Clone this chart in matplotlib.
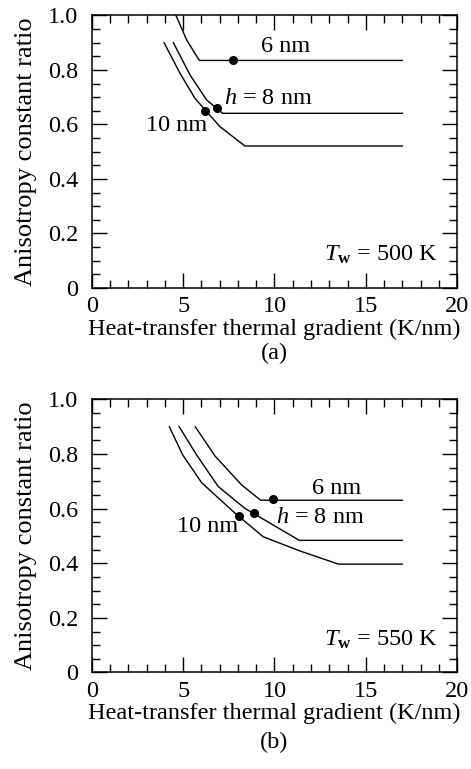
import matplotlib
matplotlib.use("Agg")
import matplotlib.pyplot as plt
from matplotlib.ticker import MultipleLocator

plt.rcParams['font.family'] = ['Liberation Serif', 'DejaVu Serif']
plt.rcParams['mathtext.fontset'] = 'custom'
plt.rcParams['mathtext.rm'] = 'Liberation Serif'
plt.rcParams['mathtext.it'] = 'Liberation Serif:italic'
plt.rcParams['mathtext.bf'] = 'Liberation Serif:bold'

# (a) Tw = 500 K
a_6_x = [4.6, 5.19, 5.88, 17.0]
a_6_y = [1.0, 0.91, 0.835, 0.835]
a_8_x = [4.46, 5.37, 6.28, 7.16, 17.0]
a_8_y = [0.90, 0.782, 0.690, 0.641, 0.641]
a_10_x = [3.95, 4.82, 5.64, 7.01, 8.38, 17.0]
a_10_y = [0.90, 0.788, 0.696, 0.592, 0.521, 0.521]
a_dots_x = [7.71, 6.85, 6.21]
a_dots_y = [0.838, 0.661, 0.651]

# (b) Tw = 550 K
b_6_x = [5.66, 6.74, 8.2, 9.24, 17.0]
b_6_y = [0.90, 0.793, 0.687, 0.631, 0.631]
b_8_x = [4.78, 5.73, 6.92, 8.38, 11.36, 17.0]
b_8_y = [0.90, 0.797, 0.681, 0.601, 0.484, 0.484]
b_10_x = [4.24, 4.97, 6.01, 7.93, 9.39, 11.36, 13.5, 17.0]
b_10_y = [0.90, 0.797, 0.695, 0.578, 0.497, 0.446, 0.397, 0.397]
b_dots_x = [9.94, 8.88, 8.04]
b_dots_y = [0.634, 0.583, 0.573]

FS = 17.5

fig = plt.figure(figsize=(4.71, 7.69), dpi=100)
ax1 = fig.add_axes([0.1953, 0.6255, 0.775, 0.3544])
ax2 = fig.add_axes([0.1953, 0.1255, 0.775, 0.355])

panels = [
    (ax1, [(a_6_x, a_6_y), (a_8_x, a_8_y), (a_10_x, a_10_y)], a_dots_x, a_dots_y,
     [(10.6, 0.885, "6 nm"), (9.65, 0.694, r"$h$ = 8 nm"), (4.64, 0.598, "10 nm")],
     r"$T_{\mathbf{w}}$ = 500 K", "(a)", -0.24),
    (ax2, [(b_6_x, b_6_y), (b_8_x, b_8_y), (b_10_x, b_10_y)], b_dots_x, b_dots_y,
     [(13.4, 0.675, "6 nm"), (12.5, 0.566, r"$h$ = 8 nm"), (6.36, 0.534, "10 nm")],
     r"$T_{\mathbf{w}}$ = 550 K", "(b)", -0.255),
]

for ax, curves, dx, dy, labels, tw, cap, cap_y in panels:
    for cx, cy in curves:
        ax.plot(cx, cy, color='black', lw=1.0, clip_on=True)
    ax.plot(dx, dy, 'o', color='black', ms=5.5, zorder=3)
    for x, y, t in labels:
        ax.text(x, y, t, fontsize=FS, ha='center', va='center')
    ax.text(18.95, 0.12, tw, fontsize=FS, ha='right', va='center')
    ax.set_xlim(0, 20)
    ax.set_ylim(0, 1.0)
    ax.xaxis.set_major_locator(MultipleLocator(5))
    ax.xaxis.set_minor_locator(MultipleLocator(1))
    ax.yaxis.set_major_locator(MultipleLocator(0.2))
    ax.yaxis.set_minor_locator(MultipleLocator(0.05))
    ax.set_yticks([0, 0.2, 0.4, 0.6, 0.8, 1.0])
    ax.set_yticklabels(['0', '0.2', '0.4', '0.6', '0.8', '1.0'])
    ax.tick_params(which='both', direction='in', top=True, right=True,
                   labelsize=FS, width=1.0)
    ax.tick_params(axis='y', pad=10)
    ax.tick_params(axis='x', pad=6)
    ax.tick_params(which='major', length=11)
    ax.tick_params(which='minor', length=6)
    for s in ax.spines.values():
        s.set_linewidth(1.1)
    ax.set_xlabel("Heat-transfer thermal gradient (K/nm)", fontsize=FS, labelpad=1)
    ax.set_ylabel("Anisotropy constant ratio", fontsize=19, labelpad=8)
    ax.text(0.5, cap_y, cap, transform=ax.transAxes, fontsize=FS,
            ha='center', va='center')

fig.savefig("out.png", dpi=100)
